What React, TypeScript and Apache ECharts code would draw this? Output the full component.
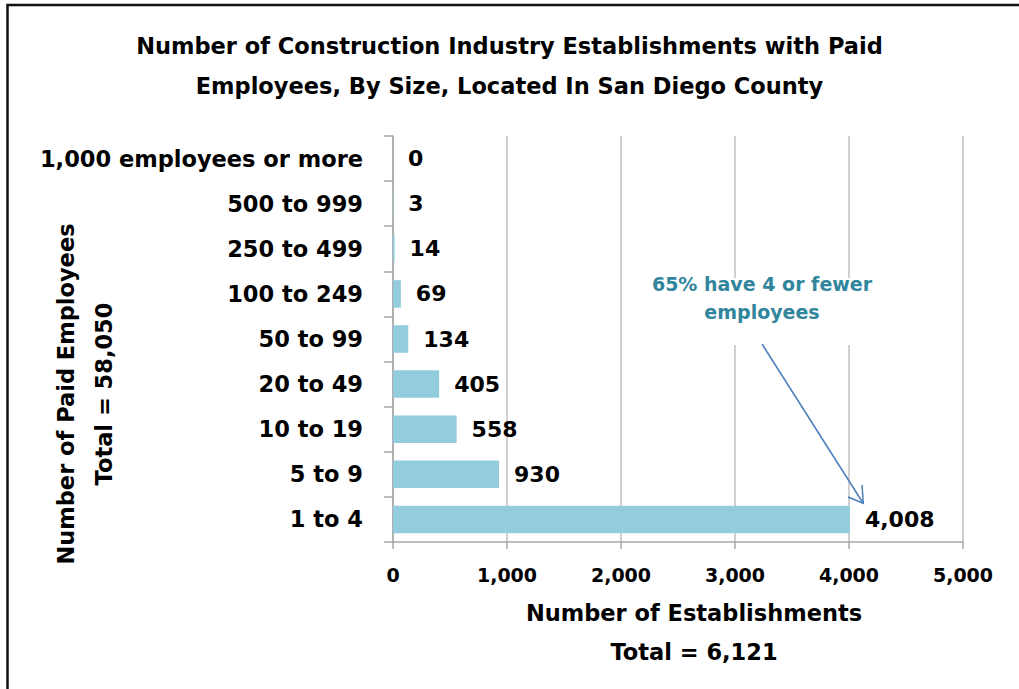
import React, { useEffect, useRef } from "react";
import * as echarts from "echarts";

const categories = [
  "1 to 4",
  "5 to 9",
  "10 to 19",
  "20 to 49",
  "50 to 99",
  "100 to 249",
  "250 to 499",
  "500 to 999",
  "1,000 employees or more",
];
const establishments = [4008, 930, 558, 405, 134, 69, 14, 3, 0];
const xTicks = { min: 0, max: 5000, interval: 1000 };
const titleText = "Number of Construction Industry Establishments with Paid\nEmployees, By Size, Located In San Diego County";
const yTitle = "Number of Paid Employees\nTotal = 58,050";
const xTitle = "Number of Establishments\nTotal = 6,121";
const noteText = "65% have 4 or fewer\nemployees";

const FONT = "'DejaVu Sans', sans-serif";
const fmt = (v: number) => Number(v).toLocaleString("en-US");

export default function App() {
  const ref = useRef<HTMLDivElement>(null);
  useEffect(() => {
    document.body.style.margin = "0";
    if (!ref.current) return;
    const chart = echarts.init(ref.current, null, { renderer: "svg" });
    chart.setOption({
      animation: false,
      backgroundColor: "#ffffff",
      title: {
        text: titleText,
        left: "center",
        top: 26,
        padding: [0, 0, 0, 28],
        textStyle: {
          fontFamily: FONT,
          fontWeight: "bold",
          fontSize: 22.5,
          lineHeight: 40,
          color: "#000",
        },
      },
      grid: { left: 393, right: 56, top: 136, height: 406 },
      xAxis: {
        type: "value",
        min: xTicks.min,
        max: xTicks.max,
        interval: xTicks.interval,
        axisLine: { show: true, lineStyle: { color: "#a6a6a6", width: 1.5 } },
        axisTick: { show: true, length: 7, lineStyle: { color: "#a6a6a6", width: 1.5 } },
        splitLine: { show: true, lineStyle: { color: "#c0c0c0", width: 1.5 } },
        axisLabel: {
          formatter: (v: number) => fmt(v),
          fontFamily: FONT,
          fontWeight: "bold",
          fontSize: 19,
          color: "#000",
          margin: 23,
        },
      },
      yAxis: {
        type: "category",
        data: categories,
        axisLine: { show: true, lineStyle: { color: "#a6a6a6", width: 1.5 } },
        axisTick: { show: true, length: 9, lineStyle: { color: "#a6a6a6", width: 1.5 } },
        splitLine: { show: false },
        axisLabel: {
          fontFamily: FONT,
          fontWeight: "bold",
          fontSize: 22.5,
          color: "#000",
          margin: 30,
        },
      },
      series: [
        {
          type: "bar",
          data: establishments,
          barCategoryGap: "39%",
          itemStyle: { color: "#93cddd" },
          label: {
            show: true,
            position: "right",
            distance: 15,
            formatter: (p: any) => fmt(p.value),
            fontFamily: FONT,
            fontWeight: "bold",
            fontSize: 22,
            color: "#000",
          },
        },
      ],
      graphic: [
        {
          type: "rect",
          shape: { x: 7.5, y: 5, width: 1100, height: 1000 },
          style: { fill: "none", stroke: "#111", lineWidth: 2.5 },
          silent: true,
          z: 200,
        },
        {
          type: "text",
          x: 85,
          y: 394,
          rotation: Math.PI / 2,
          style: {
            text: yTitle,
            fontFamily: FONT,
            fontWeight: "bold",
            fontSize: 22.5,
            lineHeight: 38,
            fill: "#000",
            align: "center",
            verticalAlign: "middle",
          },
          z: 100,
        },
        {
          type: "text",
          x: 694,
          y: 632,
          style: {
            text: xTitle,
            fontFamily: FONT,
            fontWeight: "bold",
            fontSize: 22.5,
            lineHeight: 39,
            fill: "#000",
            align: "center",
            verticalAlign: "middle",
          },
          z: 100,
        },
        {
          type: "rect",
          shape: { x: 640, y: 278, width: 245, height: 67 },
          style: { fill: "#ffffff" },
          z: 100,
        },
        {
          type: "text",
          x: 762,
          y: 298,
          style: {
            text: noteText,
            fontFamily: FONT,
            fontWeight: "bold",
            fontSize: 19,
            lineHeight: 28,
            fill: "#31859c",
            align: "center",
            verticalAlign: "middle",
          },
          z: 101,
        },
        {
          type: "line",
          shape: { x1: 762, y1: 344, x2: 863, y2: 503 },
          style: { stroke: "#4a7ebb", lineWidth: 1.5 },
          z: 101,
        },
        {
          type: "polyline",
          shape: { points: [[862, 485], [863.3, 503.3], [848, 497]] },
          style: { stroke: "#4a7ebb", lineWidth: 1.5, fill: "none" },
          z: 101,
        },
      ],
    });
    return () => chart.dispose();
  }, []);
  return <div ref={ref} style={{ width: 1019, height: 689 }} />;
}
